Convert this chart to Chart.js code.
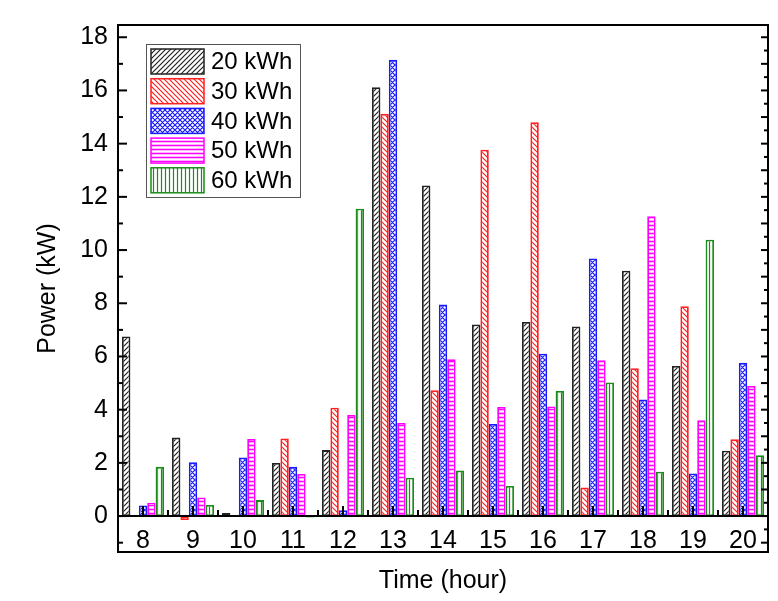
<!DOCTYPE html>
<html>
<head>
<meta charset="utf-8">
<script src="https://cdn.jsdelivr.net/npm/chart.js@4.4.1/dist/chart.umd.min.js"></script>
<style>
  html, body { margin: 0; padding: 0; background: #fff; }
  #wrap { width: 778px; height: 601px; }
</style>
</head>
<body>
<div id="wrap"><canvas id="chart-power"></canvas></div>
<script>
// data
const hours = ['8', '9', '10', '11', '12', '13', '14', '15', '16', '17', '18', '19', '20'];
const seriesNames = ['20 kWh', '30 kWh', '40 kWh', '50 kWh', '60 kWh'];
const kwh20 = [6.75, 2.95, 0.12, 2.0, 2.48, 16.12, 12.43, 7.2, 7.3, 7.13, 9.22, 5.64, 2.46];
const kwh30 = [0.02, -0.15, 0.02, 2.92, 4.07, 15.12, 4.73, 13.77, 14.8, 1.07, 5.56, 7.89, 2.89];
const kwh40 = [0.4, 2.02, 2.2, 1.85, 0.22, 17.15, 7.95, 3.46, 6.1, 9.68, 4.38, 1.6, 5.76];
const kwh50 = [0.5, 0.7, 2.9, 1.58, 3.8, 3.5, 5.9, 4.1, 4.12, 5.86, 11.27, 3.6, 4.89];
const kwh60 = [1.85, 0.42, 0.6, -0.05, 11.55, 1.44, 1.71, 1.13, 4.7, 5.02, 1.67, 10.39, 2.29];
const yTickValues = [0, 2, 4, 6, 8, 10, 12, 14, 16, 18];

document.addEventListener('DOMContentLoaded', function () {
  const FONT = 'Arial, "Liberation Sans", Helvetica, sans-serif';
  const Y_MIN = -1.35;
  const Y_MAX = 18.46;

  // hatch fills, drawn once into small tiles
  const makePattern = function (kind, color) {
    const s = kind === 'horiz' || kind === 'vert' ? 4 : 5;
    const c = document.createElement('canvas');
    c.width = s;
    c.height = s;
    const g = c.getContext('2d');
    g.fillStyle = '#fff';
    g.fillRect(0, 0, s, s);
    g.strokeStyle = color;
    g.lineWidth = 1.2;
    g.beginPath();
    if (kind === 'fwd' || kind === 'cross') {
      g.moveTo(-1, s + 1); g.lineTo(s + 1, -1);
      g.moveTo(-1, 1); g.lineTo(1, -1);
      g.moveTo(s - 1, s + 1); g.lineTo(s + 1, s - 1);
    }
    if (kind === 'back' || kind === 'cross') {
      g.moveTo(-1, -1); g.lineTo(s + 1, s + 1);
      g.moveTo(s - 1, -1); g.lineTo(s + 1, 1);
      g.moveTo(-1, s - 1); g.lineTo(1, s + 1);
    }
    if (kind === 'horiz') {
      g.lineWidth = 1.6;
      g.moveTo(0, 1.5); g.lineTo(s, 1.5);
    }
    if (kind === 'vert') {
      g.moveTo(1.5, 0); g.lineTo(1.5, s);
    }
    g.stroke();
    return g.createPattern(c, 'repeat');
  };

  const colors = ['#222222', '#ff2020', '#1a1aff', '#ff00ff', '#1a8c1a'];
  const kinds = ['fwd', 'back', 'cross', 'horiz', 'vert'];
  const values = [kwh20, kwh30, kwh40, kwh50, kwh60];

  const line = (ctx, x1, y1, x2, y2) => {
    ctx.beginPath();
    ctx.moveTo(x1, y1);
    ctx.lineTo(x2, y2);
    ctx.stroke();
  };

  // frame, zero axis and inward ticks (Origin style)
  const framePlugin = {
    id: 'frame',
    afterDatasetsDraw(chart) {
      const { ctx, chartArea: a, scales: { x, y } } = chart;
      ctx.save();
      ctx.strokeStyle = '#000';
      ctx.lineWidth = 2;
      const y0 = y.getPixelForValue(0);
      line(ctx, a.left, y0, a.right, y0);
      for (let i = 0; i < x.ticks.length; i++) {
        const px = x.getPixelForTick(i);
        line(ctx, px, y0, px, y0 - 10);
        if (i < x.ticks.length - 1) {
          const mid = (px + x.getPixelForTick(i + 1)) / 2;
          line(ctx, mid, y0, mid, y0 - 6);
        }
      }
      for (let v = Math.ceil(Y_MIN); v <= Y_MAX; v++) {
        const py = y.getPixelForValue(v);
        const len = v % 2 === 0 ? 9 : 5;
        line(ctx, a.left, py, a.left + len, py);
        line(ctx, a.right, py, a.right - 7, py);
        const ph = y.getPixelForValue(v + 0.5);
        if (v + 0.5 < Y_MAX) line(ctx, a.right, ph, a.right - 4, ph);
      }
      ctx.strokeRect(a.left, a.top, a.width, a.height);
      ctx.restore();
    },
  };

  // legend box inside the plot, top left
  const legendPlugin = {
    id: 'boxLegend',
    afterDraw(chart) {
      const { ctx } = chart;
      const bx = 146, by = 44, bw = 154, bh = 153;
      ctx.save();
      ctx.fillStyle = '#fff';
      ctx.fillRect(bx, by, bw, bh);
      ctx.strokeStyle = '#555';
      ctx.lineWidth = 1;
      ctx.strokeRect(bx + 0.5, by + 0.5, bw, bh);
      chart.data.datasets.forEach((ds, i) => {
        const sy = by + 5 + i * 29.7;
        ctx.fillStyle = ds.backgroundColor;
        ctx.fillRect(151, sy, 53, 25);
        ctx.strokeStyle = ds.borderColor;
        ctx.lineWidth = 1.5;
        ctx.strokeRect(151, sy, 53, 25);
        ctx.fillStyle = '#000';
        ctx.font = '24px ' + FONT;
        ctx.textBaseline = 'middle';
        ctx.textAlign = 'left';
        ctx.fillText(ds.label, 211, sy + 13.5);
      });
      ctx.restore();
    },
  };

  new Chart(document.getElementById('chart-power'), {
    type: 'bar',
    data: {
      labels: hours,
      datasets: seriesNames.map((name, i) => ({
        label: name,
        data: values[i],
        backgroundColor: makePattern(kinds[i], colors[i]),
        borderColor: colors[i],
        borderWidth: 1.8,
        borderSkipped: false,
        categoryPercentage: 0.84,
        barPercentage: 1.0,
      })),
    },
    options: {
      responsive: true,
      maintainAspectRatio: false,
      animation: false,
      devicePixelRatio: 1,
      layout: { padding: { top: 23, right: 10, left: 0, bottom: 0 } },
      plugins: {
        legend: { display: false },
        tooltip: { enabled: false },
      },
      scales: {
        x: {
          grid: { display: false, drawTicks: false },
          border: { display: false },
          ticks: {
            color: '#000',
            font: { family: FONT, size: 25 },
            mirror: true,
            padding: -4,
            maxRotation: 0,
            autoSkip: false,
          },
          title: {
            display: true,
            text: 'Time (hour)',
            color: '#000',
            font: { family: FONT, size: 25 },
            padding: { top: 0, bottom: 5 },
          },
          afterFit: (scale) => { scale.height = 49; },
        },
        y: {
          min: Y_MIN,
          max: Y_MAX,
          grid: { display: false, drawTicks: false },
          border: { display: false },
          afterBuildTicks: (scale) => {
            scale.ticks = yTickValues.map((v) => ({ value: v }));
          },
          ticks: {
            color: '#000',
            font: { family: FONT, size: 25 },
            padding: 10,
          },
          title: {
            display: true,
            text: 'Power (kW)',
            color: '#000',
            font: { family: FONT, size: 25 },
            padding: { top: 33, bottom: 0 },
          },
          afterFit: (scale) => { scale.width = 118; },
        },
      },
    },
    plugins: [framePlugin, legendPlugin],
  });
});
</script>
</body>
</html>
